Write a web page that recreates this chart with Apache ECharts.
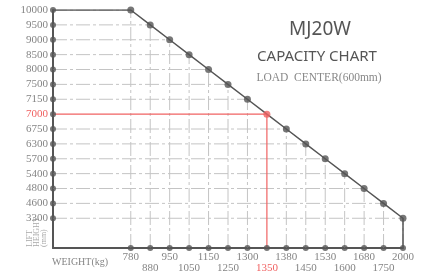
<!DOCTYPE html>
<html>
<head>
<meta charset="utf-8">
<script src="https://cdn.jsdelivr.net/npm/echarts@6/dist/echarts.min.js"></script>
<style>
  html, body { margin: 0; padding: 0; background: #fff; }
  #main { width: 421px; height: 271px; }
</style>
</head>
<body>
<div id="main"></div>
<script>
// capacity table: weight (kg) vs lift height (mm), same order
var weights = ['780', '880', '950', '1050', '1150', '1250', '1300', '1350',
  '1380', '1450', '1530', '1600', '1680', '1750', '2000'];
var heights = ['10000', '9500', '9000', '8500', '8000', '7500', '7150', '7000',
  '6750', '6300', '5700', '5400', '4800', '4600', '3300'];
var markedIndex = 7; // 1350 kg @ 7000 mm, drawn in red

var titleText = 'MJ20W';
var subText = 'CAPACITY CHART';
var loadText = 'LOAD  CENTER(600mm)';
var xName = 'WEIGHT(kg)';
var yName = 'LIFT\nHEIGHT\n(mm)';

var DARK = '#555';
var GRIDC = '#c4c4c4';
var RED = '#f06262';
var LABELC = '#858585';
var SERIF = '"Liberation Serif", "DejaVu Serif", serif';

// empty slots so the axes start left of / below the first value
var xCats = ['', '', '', ''].concat(weights);
var yCats = ['', ''].concat(heights.slice().reverse());

var chart = echarts.init(document.getElementById('main'));
var series = [];

// grid lines stop at the curve
weights.forEach(function (w, i) {
  var h = heights[i];
  var red = i === markedIndex;
  var style = red
    ? { color: RED, width: 1.2, type: 'solid' }
    : { color: GRIDC, width: 1, type: [14, 3, 3, 3] };
  series.push({
    type: 'line', silent: true, symbol: 'none', z: red ? 2 : 1,
    lineStyle: style, data: [[0, h], [w, h]]
  });
  series.push({
    type: 'line', silent: true, symbol: 'none', z: red ? 2 : 1,
    lineStyle: style, data: [[w, 0], [w, h]]
  });
});

// capacity curve
var curve = [[0, heights[0]]];
weights.forEach(function (w, i) { curve.push([w, heights[i]]); });
curve.push([weights[weights.length - 1], 0]);
series.push({
  type: 'line', silent: true, symbol: 'none', z: 3,
  lineStyle: { color: DARK, width: 1.5 }, data: curve
});

series.push({
  type: 'scatter', silent: true, symbolSize: 7, z: 4,
  itemStyle: {
    color: function (p) { return p.dataIndex === markedIndex ? RED : DARK; }
  },
  data: weights.map(function (w, i) { return [w, heights[i]]; })
});

// dots on the axes
series.push({
  type: 'scatter', silent: true, symbolSize: 6, z: 5,
  itemStyle: { color: DARK },
  data: heights.map(function (h) { return [0, h]; })
    .concat(weights.map(function (w) { return [w, 0]; }))
});

var option = {
  animation: false,
  grid: { left: 53, right: 18, top: 10, bottom: 23, outerBoundsMode: 'none' },
  xAxis: {
    type: 'category', data: xCats, boundaryGap: false,
    axisLine: { lineStyle: { color: DARK, width: 2 } },
    axisTick: { show: false },
    splitLine: { show: false },
    axisLabel: {
      interval: 0, margin: 4, color: LABELC, fontFamily: SERIF, fontSize: 11,
      lineHeight: 11,
      formatter: function (v) {
        if (!v) return '';
        var k = weights.indexOf(v);
        var txt = k === markedIndex ? '{r|' + v + '}' : v;
        return k % 2 ? '\n' + txt : txt;
      },
      rich: { r: { color: RED, fontFamily: SERIF, fontSize: 11, lineHeight: 11 } }
    }
  },
  yAxis: {
    type: 'category', data: yCats, boundaryGap: false,
    axisLine: { lineStyle: { color: DARK, width: 2 } },
    axisTick: { show: false },
    splitLine: { show: false },
    axisLabel: {
      interval: 0, margin: 5, color: LABELC, fontFamily: SERIF, fontSize: 11,
      formatter: function (v) {
        if (!v) return '';
        return v === heights[markedIndex] ? '{r|' + v + '}' : v;
      },
      rich: { r: { color: RED, fontFamily: SERIF, fontSize: 11 } }
    }
  },
  graphic: [
    { type: 'text', x: 320, y: 30, style: { text: titleText, fill: '#555',
      font: '19px "Noto Sans", sans-serif', textAlign: 'center', textVerticalAlign: 'middle' } },
    { type: 'text', x: 317, y: 57, style: { text: subText, fill: '#555',
      font: '15px "Noto Sans", sans-serif', textAlign: 'center', textVerticalAlign: 'middle' } },
    { type: 'text', x: 319, y: 78, style: { text: loadText, fill: '#888',
      font: '11.5px ' + SERIF, textAlign: 'center', textVerticalAlign: 'middle' } },
    { type: 'text', x: 52, y: 262, style: { text: xName, fill: LABELC,
      font: '10px ' + SERIF, textAlign: 'left', textVerticalAlign: 'middle' } },
    { type: 'text', x: 37, y: 247, rotation: Math.PI / 2, style: { text: yName, fill: '#a8a8a8',
      font: '8px ' + SERIF, lineHeight: 7, textAlign: 'left', textVerticalAlign: 'middle' } }
  ],
  series: series
};

chart.setOption(option);
</script>
</body>
</html>
